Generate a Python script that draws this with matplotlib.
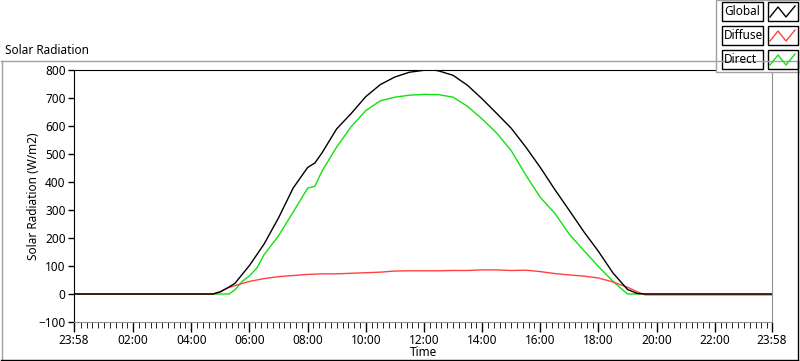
import matplotlib.pyplot as plt
from matplotlib.lines import Line2D
from matplotlib.patches import Rectangle

plt.rcParams['font.family'] = ['Noto Sans', 'DejaVu Sans']

# readings in clock hours (0 = 00:00), values in W/m2
t_start = -2 / 60.0
t_end = 24 - 2 / 60.0

global_t = [t_start, 4.75, 5.0, 5.25, 5.5, 5.75, 6.0, 6.5, 7.0, 7.5, 8.0, 8.25, 8.5,
            9.0, 9.5, 10.0, 10.5, 11.0, 11.5, 12.0, 12.25, 12.5, 13.0, 13.5, 14.0,
            14.5, 15.0, 15.5, 16.0, 16.5, 17.0, 17.5, 18.0, 18.5, 19.0, 19.33, 19.6, t_end]
global_v = [0, 0, 8, 22, 38, 70, 102, 178, 272, 378, 452, 468, 505,
            590, 645, 705, 748, 775, 792, 799, 801, 797, 781, 745, 697,
            645, 592, 525, 452, 373, 298, 222, 152, 75, 16, 2, 0, 0]

direct_t = [t_start, 5.3, 5.5, 5.75, 6.0, 6.25, 6.5, 7.0, 7.5, 8.0, 8.25, 8.5,
            9.0, 9.5, 10.0, 10.5, 11.0, 11.5, 12.0, 12.5, 13.0, 13.5, 14.0,
            14.5, 15.0, 15.5, 16.0, 16.5, 17.0, 17.5, 18.0, 18.5, 18.75, 19.0, t_end]
direct_v = [0, 0, 15, 45, 65, 92, 140, 208, 292, 378, 385, 440,
            525, 598, 655, 690, 703, 710, 713, 712, 703, 670, 625,
            575, 512, 425, 345, 288, 213, 155, 98, 45, 22, 0, 0]

diffuse_t = [t_start, 4.75, 5.0, 5.25, 5.5, 6.0, 6.5, 7.0, 7.5, 8.0, 8.5, 9.0,
             9.5, 10.0, 10.5, 11.0, 11.5, 12.0, 12.5, 13.0, 13.5, 14.0, 14.5,
             15.0, 15.5, 16.0, 16.5, 17.0, 17.5, 18.0, 18.5, 19.0, 19.33, 19.6, t_end]
diffuse_v = [0, 0, 8, 22, 30, 45, 55, 62, 66, 70, 72, 72,
             74, 76, 78, 82, 83, 83, 83, 84, 84, 86, 86,
             84, 85, 80, 73, 68, 64, 57, 43, 24, 8, -3, -3]

x_ticks = [t_start, 2, 4, 6, 8, 10, 12, 14, 16, 18, 20, 22, t_end]
x_labels = ['23:58', '02:00', '04:00', '06:00', '08:00', '10:00', '12:00',
            '14:00', '16:00', '18:00', '20:00', '22:00', '23:58']
y_ticks = [-100, 0, 100, 200, 300, 400, 500, 600, 700, 800]

names = ['Global', 'Diffuse', 'Direct']
colors = ['black', '#ff4040', '#12e012']

fig = plt.figure(figsize=(8, 3.61), dpi=100)
ax = fig.add_axes([74 / 800, 1 - 322 / 361, 698 / 800, 252 / 361])

ax.plot(direct_t, direct_v, color=colors[2], lw=1)
ax.plot(diffuse_t, diffuse_v, color=colors[1], lw=1)
ax.plot(global_t, global_v, color=colors[0], lw=1)

ax.set_xlim(t_start, t_end)
ax.set_ylim(-100, 800)
ax.set_xticks(x_ticks)
ax.set_xticklabels(x_labels)
ax.set_xticks([i * 0.2 for i in range(1, 120) if i % 10 != 0], minor=True)
ax.set_yticks(y_ticks)
ax.tick_params(axis='both', labelsize=8.5, direction='out', color='black', width=1)
ax.tick_params(axis='x', which='major', length=7, pad=1.5)
ax.tick_params(axis='x', which='minor', length=4)
ax.tick_params(axis='y', length=4, pad=2)

ax.spines['left'].set_color('black')
ax.spines['top'].set_color('black')
ax.spines['bottom'].set_color('#909090')
ax.spines['right'].set_color('#909090')

ax.set_xlabel('Time', fontsize=8.5, labelpad=-0.5)
ax.set_ylabel('Solar Radiation (W/m2)', fontsize=8.5, labelpad=-1)

# outer frame of the graph
W, H = 800.0, 361.0
def fline(x0, y0, x1, y1, c):
    fig.add_artist(Line2D([x0 / W, x1 / W], [1 - y0 / H, 1 - y1 / H], color=c, lw=1))

fline(1, 61, 797, 61, '#a0a0a0')
fline(1.5, 61, 1.5, 359, '#a0a0a0')
fline(1, 359.5, 798, 359.5, 'black')
fline(797.5, 61, 797.5, 360, 'black')
fig.text(5 / W, 1 - 50 / H, 'Solar Radiation', fontsize=8.5, va='center', ha='left')

# legend panel
fig.add_artist(Rectangle((716 / W, 1 - 72 / H), 84 / W, 72 / H, facecolor='white',
                         edgecolor='#a0a0a0', lw=1))
for i, (name, c) in enumerate(zip(names, colors)):
    y0 = 2 + i * 24
    fig.add_artist(Rectangle((721.5 / W, 1 - (y0 + 19) / H), 41 / W, 19 / H,
                             facecolor='white', edgecolor='black', lw=1))
    fig.text(724 / W, 1 - (y0 + 9.5) / H, name, fontsize=8.5, va='center', ha='left')
    fig.add_artist(Rectangle((767.5 / W, 1 - (y0 + 19) / H), 30 / W, 19 / H,
                             facecolor='white', edgecolor='black', lw=1))
    zx = [770, 778, 786, 795]
    zy = [y0 + 15, y0 + 5, y0 + 15, y0 + 4]
    fig.add_artist(Line2D([v / W for v in zx], [1 - v / H for v in zy], color=c, lw=1))

fig.savefig('out.png', dpi=100)
